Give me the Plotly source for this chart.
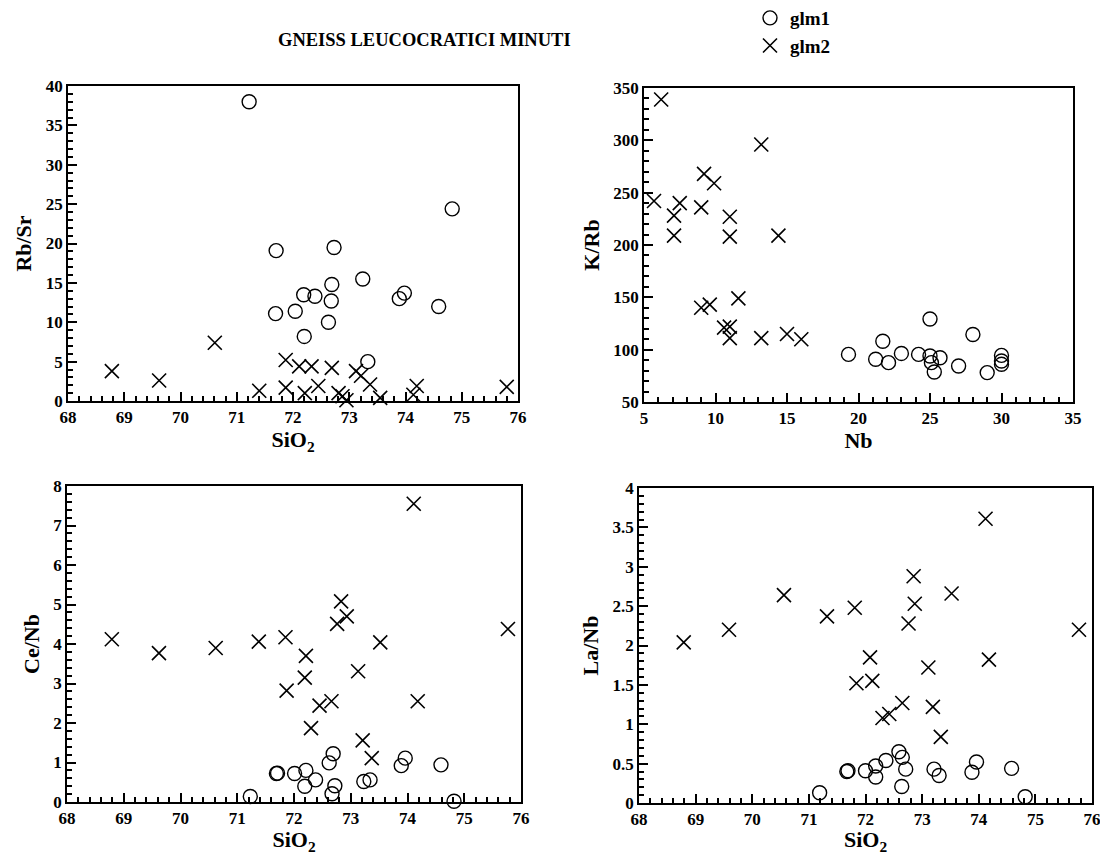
import plotly.graph_objects as go

# ---- data ----
# Rb/Sr vs SiO2
rbsr_glm1_sio2 = [71.22, 74.83, 71.70, 72.73, 73.24, 72.69, 72.19, 72.39, 73.98,
                  73.89, 72.68, 74.59, 71.69, 72.04, 72.63, 72.20, 73.33]
rbsr_glm1 = [38.0, 24.4, 19.1, 19.5, 15.5, 14.8, 13.5, 13.3, 13.7,
             13.0, 12.7, 12.0, 11.1, 11.4, 10.0, 8.2, 5.0]
rbsr_glm2_sio2 = [68.78, 69.62, 70.61, 71.40, 71.87, 71.87, 72.11, 72.33, 72.21, 72.45, 72.69,
                  73.12, 73.21, 73.37, 72.81, 72.88, 72.95, 73.55, 74.20, 74.14, 75.80]
rbsr_glm2 = [3.8, 2.6, 7.4, 1.3, 5.2, 1.7, 4.4, 4.4, 1.0, 1.9, 4.2,
             3.8, 3.2, 2.1, 1.0, 0.6, 0.1, 0.4, 1.9, 0.8, 1.8]

# K/Rb vs Nb
krb_glm1_nb = [19.3, 21.2, 22.1, 21.7, 23.0, 24.2, 25.0, 25.0, 25.1,
               25.3, 25.7, 27.0, 28.0, 29.0, 30.0, 30.0, 30.0]
krb_glm1 = [95.5, 90.8, 87.6, 108.1, 96.4, 95.5, 129.3, 93.9, 87.6,
            78.7, 92.3, 84.4, 114.5, 78.1, 94.5, 89.2, 86.0]
krb_glm2_nb = [6.2, 5.7, 7.5, 7.1, 7.1, 9.0, 9.2, 9.9, 13.2, 11.0, 11.0,
               14.4, 9.0, 9.6, 11.6, 10.6, 11.0, 11.0, 13.2, 15.0, 16.0]
krb_glm2 = [339, 242, 240, 228, 209, 236, 268, 259, 296, 227, 208,
            209, 140, 143, 149, 121, 122, 111, 111, 115, 110]

# Ce/Nb vs SiO2
cenb_glm1_sio2 = [71.69, 71.71, 72.01, 72.21, 72.19, 72.38, 72.69, 72.62, 72.72,
                  72.67, 73.23, 73.34, 73.96, 73.89, 74.59, 71.23, 74.82]
cenb_glm1 = [0.72, 0.73, 0.72, 0.80, 0.40, 0.56, 1.22, 0.99, 0.41,
             0.21, 0.52, 0.56, 1.11, 0.92, 0.94, 0.14, 0.02]
cenb_glm2_sio2 = [74.11, 68.79, 69.62, 70.62, 71.38, 71.85, 72.21, 72.19, 71.87, 72.83, 72.93,
                  72.76, 73.52, 75.77, 73.13, 72.45, 72.66, 74.18, 72.30, 73.21, 73.37]
cenb_glm2 = [7.55, 4.12, 3.77, 3.90, 4.06, 4.17, 3.70, 3.15, 2.82, 5.08, 4.70,
             4.51, 4.04, 4.38, 3.31, 2.44, 2.55, 2.55, 1.87, 1.56, 1.11]

# La/Nb vs SiO2
lanb_glm1_sio2 = [71.67, 71.69, 72.00, 72.18, 72.18, 72.36, 72.59, 72.65, 72.71,
                  72.64, 73.21, 73.30, 73.88, 73.96, 74.58, 71.19, 74.82]
lanb_glm1 = [0.40, 0.41, 0.41, 0.47, 0.33, 0.54, 0.65, 0.58, 0.43,
             0.21, 0.43, 0.35, 0.39, 0.52, 0.44, 0.13, 0.08]
lanb_glm2_sio2 = [74.12, 68.79, 69.59, 70.56, 71.32, 71.81, 72.85, 72.87, 72.76, 73.52, 75.77,
                  72.08, 71.84, 72.12, 73.11, 74.18, 72.65, 72.42, 72.30, 73.19, 73.33]
lanb_glm2 = [3.61, 2.04, 2.20, 2.64, 2.37, 2.48, 2.88, 2.53, 2.28, 2.66, 2.20,
             1.85, 1.52, 1.55, 1.72, 1.82, 1.27, 1.13, 1.08, 1.22, 0.84]

# the page body adds an 8px margin, so the figure is a bit smaller than the window
OFF = 8
W, H = 1108 - OFF, 863 - 2 * OFF
FONT = "Liberation Serif"
CIRCLE = dict(symbol="circle-open", size=14, color="black", line=dict(width=1.4, color="black"))
CROSS = dict(symbol="x-thin-open", size=14, color="black", line=dict(width=1.6, color="black"))

# panel frames in page pixels: (left, right, top, bottom)
frames = {
    1: (68, 518, 86, 401),
    2: (644, 1073, 88, 402),
    3: (67, 521, 486, 802),
    4: (639, 1092, 488, 803),
}


def px(x=None, y=None):
    if x is not None:
        return (x - OFF) / W
    return 1 - (y - OFF) / H


def axis(frame, which, rng, dtick, minor, title, standoff):
    l, r, t, b = frame
    dom = [px(x=l), px(x=r)] if which == "x" else [px(y=b), px(y=t)]
    return dict(
        domain=dom, range=rng, dtick=dtick, tick0=rng[0], automargin=False,
        ticks="inside", ticklen=9, tickwidth=2, tickcolor="black",
        minor=dict(dtick=minor, ticks="inside", ticklen=5, tickwidth=1.5, tickcolor="black"),
        showline=True, linecolor="black", linewidth=1.6, mirror=True,
        showgrid=False, zeroline=False,
        tickfont=dict(family=FONT, size=17, color="black", weight="bold"),
        title=dict(text=title, standoff=standoff,
                   font=dict(family=FONT, size=22, color="black", weight="bold")),
    )


fig = go.Figure()
panels = [
    (1, rbsr_glm1_sio2, rbsr_glm1, rbsr_glm2_sio2, rbsr_glm2),
    (2, krb_glm1_nb, krb_glm1, krb_glm2_nb, krb_glm2),
    (3, cenb_glm1_sio2, cenb_glm1, cenb_glm2_sio2, cenb_glm2),
    (4, lanb_glm1_sio2, lanb_glm1, lanb_glm2_sio2, lanb_glm2),
]
for i, x1, y1, x2, y2 in panels:
    ax = "" if i == 1 else str(i)
    fig.add_trace(go.Scatter(x=x1, y=y1, mode="markers", marker=CIRCLE, name="<b>glm1</b>",
                             showlegend=(i == 1), cliponaxis=False, xaxis="x" + ax, yaxis="y" + ax))
    fig.add_trace(go.Scatter(x=x2, y=y2, mode="markers", marker=CROSS, name="<b>glm2</b>",
                             showlegend=(i == 1), cliponaxis=False, xaxis="x" + ax, yaxis="y" + ax))

sio2 = "SiO<sub>2</sub>"
fig.update_layout(
    width=W, height=H,
    margin=dict(l=0, r=0, t=0, b=0, autoexpand=False),
    paper_bgcolor="white", plot_bgcolor="white",
    xaxis=axis(frames[1], "x", [68, 76], 1, 0.2, sio2, 2),
    yaxis=axis(frames[1], "y", [0, 40], 5, 1, "Rb/Sr", 8),
    xaxis2=axis(frames[2], "x", [5, 35], 5, 1, "Nb", 2),
    yaxis2=axis(frames[2], "y", [50, 350], 50, 10, "K/Rb", 8),
    xaxis3=axis(frames[3], "x", [68, 76], 1, 0.2, sio2, 2),
    yaxis3=axis(frames[3], "y", [0, 8], 1, 0.2, "Ce/Nb", 8),
    xaxis4=axis(frames[4], "x", [68, 76], 1, 0.2, sio2, 2),
    yaxis4=axis(frames[4], "y", [0, 4], 0.5, 0.1, "La/Nb", 8),
    legend=dict(x=px(x=750), y=1 + 9 / H, xanchor="left", yanchor="top",
                font=dict(family=FONT, size=19, color="black"),
                bgcolor="rgba(0,0,0,0)", itemwidth=30, tracegroupgap=0),
    annotations=[dict(text="<b>GNEISS LEUCOCRATICI MINUTI</b>", x=px(x=424), y=px(y=40),
                      xref="paper", yref="paper", xanchor="center", yanchor="middle",
                      showarrow=False, font=dict(family=FONT, size=18.5, color="black"))],
)
for k in ["xaxis", "xaxis2", "xaxis3", "xaxis4"]:
    fig.layout[k].anchor = k.replace("xaxis", "y")
for k in ["yaxis", "yaxis2", "yaxis3", "yaxis4"]:
    fig.layout[k].anchor = k.replace("yaxis", "x")

fig.write_html("out.html")
